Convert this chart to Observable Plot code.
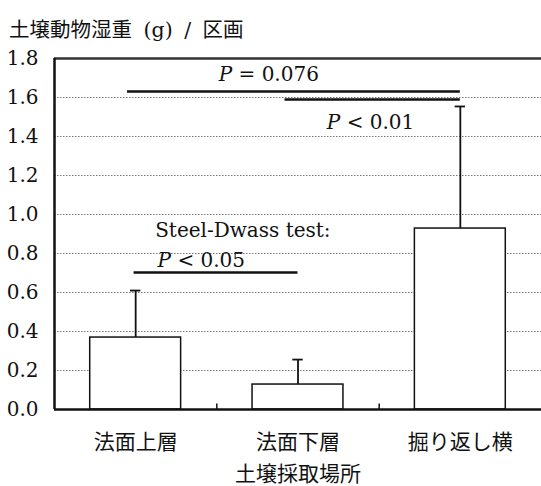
<!DOCTYPE html>
<html>
<head>
<meta charset="utf-8">
<script src="https://cdn.jsdelivr.net/npm/d3@7"></script>
<script src="https://cdn.jsdelivr.net/npm/@observablehq/plot@0.6"></script>
<style>
  body { margin: 0; background: #fff; }
  #wrap { position: relative; width: 541px; height: 486px; font-family: "DejaVu Serif", "Liberation Serif", "Noto Sans CJK JP", serif; }
  #title { position: absolute; left: 9px; top: 13px; font-size: 20.5px; word-spacing: 5px; color: #111; }
  #chart { position: absolute; left: 0; top: 0; }
</style>
</head>
<body>
<div id="wrap">
  <div id="chart"></div>
  <div id="title">土壌動物湿重 (g) / 区画</div>
</div>
<script>
const categories = ["法面上層", "法面下層", "掘り返し横"];
const means = [0.369, 0.128, 0.928];
const uppers = [0.610, 0.256, 1.554];
const yTicks = [0, 0.2, 0.4, 0.6, 0.8, 1.0, 1.2, 1.4, 1.6, 1.8];
const gridTicks = [0.2, 0.4, 0.6, 0.8, 1.0, 1.2, 1.4, 1.6];
const sigX1 = [-0.05, 0.92, -0.01];
const sigX2 = [2.0, 2.0, 1.0];
const sigY = [1.631, 1.59, 0.703];
const noteText = ["P = 0.076", "P < 0.01", "Steel-Dwass test:", "P < 0.05"];
const noteX = [0.82, 1.447, 0.12, 0.135];
const noteY = [1.718, 1.472, 0.918, 0.764];
const noteAnchor = ["middle", "middle", "start", "start"];
const xLabel = "土壌採取場所";

const FONT = '"DejaVu Serif", "Liberation Serif", "Noto Sans CJK JP", serif';

const data = categories.map((c, i) => ({i, c, mean: means[i], upper: uppers[i]}));
const sigs = sigY.map((y, k) => ({x1: sigX1[k], x2: sigX2[k], y}));
const notes = noteText.map((t, k) => ({t, x: noteX[k], y: noteY[k], a: noteAnchor[k]}));

const half = 0.28, cap = 0.032;

const plot = Plot.plot({
  width: 541,
  height: 486,
  marginTop: 58,
  marginBottom: 77,
  marginLeft: 54,
  marginRight: 0,
  style: {fontFamily: FONT, fontSize: "20px", color: "#111", background: "white", overflow: "visible"},
  x: {domain: [-0.5, 2.5]},
  y: {domain: [0, 1.8]},
  marks: [
    Plot.gridY(gridTicks, {stroke: "#777", strokeOpacity: 1, strokeDasharray: "1.5,1.5", strokeWidth: 1}),
    Plot.ruleY([1.8], {stroke: "#333", strokeWidth: 2.5}),
    Plot.rectY(data, {x1: d => d.i - half, x2: d => d.i + half, y: "mean", fill: "white", stroke: "#111", strokeWidth: 1.5}),
    Plot.ruleX(data, {x: "i", y1: "mean", y2: "upper", stroke: "#111", strokeWidth: 1.8}),
    Plot.ruleY(data, {x1: d => d.i - cap, x2: d => d.i + cap, y: "upper", stroke: "#111", strokeWidth: 1.8}),
    Plot.ruleY(sigs, {x1: "x1", x2: "x2", y: "y", stroke: "#111", strokeWidth: 2.5}),
    Plot.text(notes.filter(d => d.a === "middle"), {x: "x", y: "y", text: "t", textAnchor: "middle", fontSize: 20, fill: "#111"}),
    Plot.text(notes.filter(d => d.a === "start"), {x: "x", y: "y", text: "t", textAnchor: "start", fontSize: 20, fill: "#111"}),
    Plot.ruleX([0.5, 1.5], {y1: 0, y2: 0.028, stroke: "#111", strokeWidth: 1.5}),
    Plot.ruleY([0], {stroke: "#111", strokeWidth: 2.5}),
    Plot.ruleX([-0.5], {stroke: "#111", strokeWidth: 2.5}),
    Plot.axisY({ticks: yTicks, tickFormat: d3.format(".1f"), tickSize: 0, tickPadding: 16, label: null, fontSize: 20}),
    Plot.axisX({ticks: [0, 1, 2], tickFormat: i => categories[i], tickSize: 0, tickPadding: 25, fontSize: 21,
      label: xLabel, labelAnchor: "center", labelArrow: "none", labelOffset: 71})
  ]
});

// Italicise the "P" in the p-value annotations
d3.select(plot).selectAll("text").each(function() {
  const el = this;
  if (el.childElementCount === 0 && /^P [=<]/.test(el.textContent)) {
    const rest = el.textContent.slice(1);
    el.textContent = "";
    const a = document.createElementNS("http://www.w3.org/2000/svg", "tspan");
    a.setAttribute("font-style", "italic");
    a.textContent = "P";
    const b = document.createElementNS("http://www.w3.org/2000/svg", "tspan");
    b.textContent = rest;
    el.appendChild(a); el.appendChild(b);
  }
});

document.getElementById("chart").appendChild(plot);
</script>
</body>
</html>
